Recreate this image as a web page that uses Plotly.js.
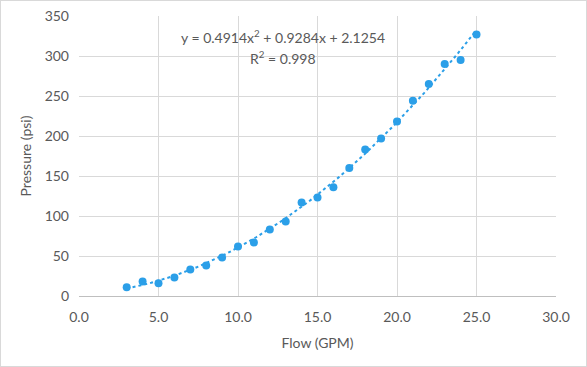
<!DOCTYPE html>
<html>
<head>
<meta charset="utf-8">
<script src="https://cdn.plot.ly/plotly-3.0.1.min.js"></script>
<style>
html,body{margin:0;padding:0;background:#fff;}
#wrap{position:relative;width:587px;height:367px;}
#chart{width:587px;height:367px;}
#frame{position:absolute;left:0;top:0;width:585px;height:365px;border:1px solid #d9d9d9;pointer-events:none;}
</style>
</head>
<body>
<div id="wrap"><div id="chart"></div><div id="frame"></div></div>
<script>
// Data
const flow = [3,4,5,6,7,8,9,10,11,12,13,14,15,16,17,18,19,20,21,22,23,24,25];
const pressure = [11,18,16,23,33,38,48,62,67,83,93,117,123,136,160,183,197,218,244,265,290,295,327];
// Trendline coefficients (shown on chart): y = a x^2 + b x + c
const trendCoef = [0.4914, 0.9284, 2.1254];
const rSquared = 0.998;
const xTicks = [0,5,10,15,20,25,30];
const yTicks = [0,50,100,150,200,250,300,350];

const color = '#2B9FE8';
const tx = [], ty = [];
const xmin = Math.min(...flow), xmax = Math.max(...flow);
for (let i = 0; i <= 100; i++) {
  const x = xmin + (xmax - xmin) * i / 100;
  tx.push(x);
  ty.push(trendCoef[0]*x*x + trendCoef[1]*x + trendCoef[2]);
}

const font = 'Lato, "Open Sans", sans-serif';
const fs = 14;
const grey = '#595959';
const traces = [
  {x: tx, y: ty, mode: 'lines', line: {color: color, width: 2, dash: 'dot'}, hoverinfo: 'skip', showlegend: false},
  {x: flow, y: pressure, mode: 'markers', marker: {color: color, size: 8}, showlegend: false}
];
const layout = {
  width: 587, height: 367,
  margin: {l: 79, r: 31, t: 16, b: 71},
  paper_bgcolor: '#fff', plot_bgcolor: '#fff',
  font: {family: font, size: fs, color: grey},
  showlegend: false,
  xaxis: {
    range: [0, 30], tickvals: xTicks, ticktext: xTicks.map(v => v.toFixed(1)),
    showgrid: true, gridcolor: '#d9d9d9', gridwidth: 1, zeroline: false,
    showline: true, linecolor: '#bfbfbf', linewidth: 1, ticks: '',
    ticklabelstandoff: 8,
    tickfont: {size: fs, color: grey},
    title: {text: 'Flow (GPM)', font: {size: fs, color: grey}, standoff: 14}
  },
  yaxis: {
    range: [0, 350], tickvals: yTicks,
    showgrid: true, gridcolor: '#d9d9d9', gridwidth: 1, zeroline: false,
    showline: false, ticks: '',
    ticklabelstandoff: 9,
    tickfont: {size: fs, color: grey},
    title: {text: 'Pressure (psi)', font: {size: fs, color: grey}, standoff: 9}
  },
  annotations: [
    {xref: 'x', yref: 'y', x: 12.8, y: 324,
     text: 'y = ' + trendCoef[0] + 'x<sup>2</sup> + ' + trendCoef[1] + 'x + ' + trendCoef[2],
     showarrow: false, align: 'center', font: {size: fs, color: grey}, yanchor: 'middle'},
    {xref: 'x', yref: 'y', x: 12.8, y: 298,
     text: 'R<sup>2</sup> = ' + rSquared,
     showarrow: false, align: 'center', font: {size: fs, color: grey}, yanchor: 'middle'}
  ]
};
Plotly.newPlot('chart', traces, layout, {displayModeBar: false, staticPlot: true});
</script>
</body>
</html>
